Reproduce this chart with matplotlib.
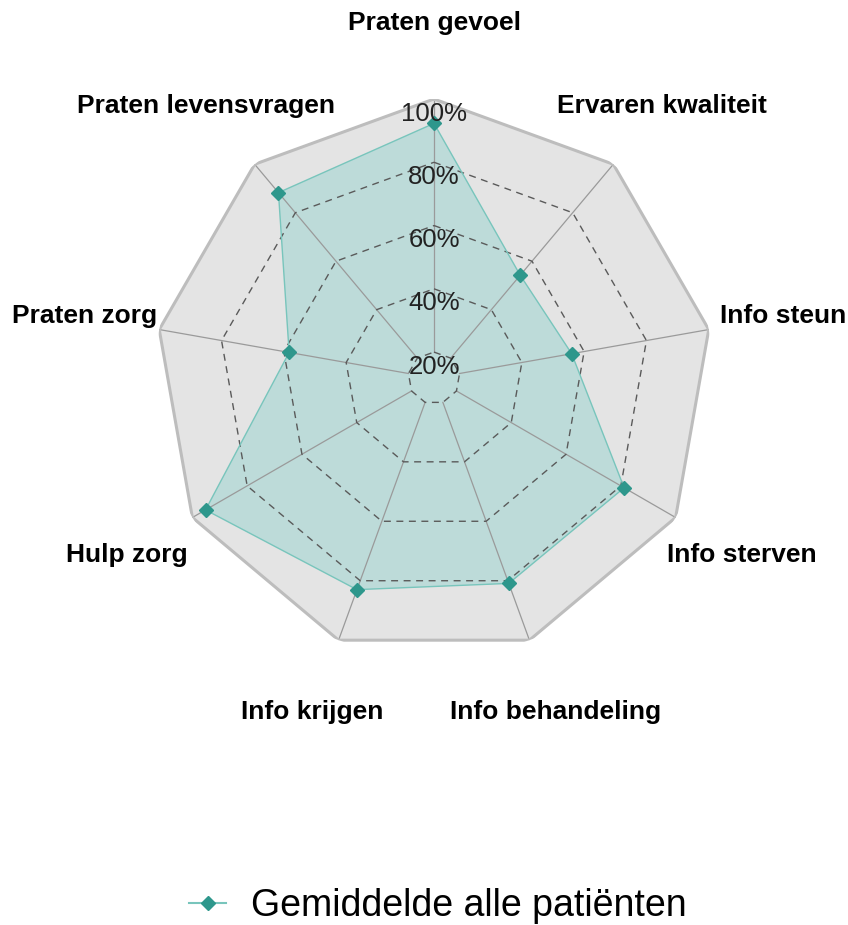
import numpy as np
import matplotlib
matplotlib.use("Agg")
import matplotlib.pyplot as plt
from matplotlib.lines import Line2D

plt.rcParams['font.family'] = ['Liberation Sans', 'DejaVu Sans']

# data
categories = ["Praten gevoel", "Ervaren kwaliteit", "Info steun", "Info sterven",
              "Info behandeling", "Info krijgen", "Hulp zorg", "Praten zorg",
              "Praten levensvragen"]
gemiddelde = [92.3, 54.2, 56.0, 81.2, 80.9, 83.0, 95.2, 58.3, 88.3]
ring_values = [20, 40, 60, 80]
tick_labels = ["20%", "40%", "60%", "80%", "100%"]
series_name = "Gemiddelde alle patiënten"

r_min = 11.8      # value that sits at the centre
r_max = 100
r_label = 124.0   # where the category names sit

teal_dark = "#2e978c"
teal_line = "#78c5bc"
teal_fill = "#bddbd9"

n = len(categories)
angles = np.linspace(0, 2 * np.pi, n, endpoint=False)
closed = np.append(angles, angles[0])

fig = plt.figure(figsize=(8.48, 9.25), dpi=100)
W, H = 848, 925
cx, cy, R = 434, 378, 279
ax = fig.add_axes([(cx - R) / W, (H - cy - R) / H, 2 * R / W, 2 * R / H],
                  projection='polar')
ax.set_theta_offset(np.pi / 2)
ax.set_theta_direction(-1)
ax.set_ylim(r_min, r_max)
ax.set_xticks([])
ax.set_yticks([])
ax.grid(False)
ax.spines['polar'].set_visible(False)
ax.set_facecolor('none')

# grey background
ax.fill(closed, [r_max] * (n + 1), color="#e4e4e4", zorder=0, lw=0)

# series area
vals = np.append(gemiddelde, gemiddelde[0])
ax.fill(closed, vals, color=teal_fill, zorder=1, lw=0)

# spokes
for a in angles:
    ax.plot([a, a], [20, r_max], color="#9a9a9a", lw=0.9, zorder=2)

# dashed rings
for v in ring_values:
    ax.plot(closed, [v] * (n + 1), color="#5a5a5a", lw=1.0,
            linestyle=(0, (5, 4)), zorder=2)

# outer frame
ax.plot(closed, [r_max] * (n + 1), color="#bdbdbd", lw=2.2, zorder=2,
        solid_joinstyle='miter')

# series line + markers
ax.plot(closed, vals, color=teal_line, lw=1.0, zorder=3)
ax.plot(angles, gemiddelde, linestyle='none', marker='D', ms=7.6,
        color=teal_dark, zorder=4)

# radial tick labels
for v, t in zip(ring_values + [100], tick_labels):
    ax.annotate(t, xy=(0, v), xytext=(0, -10.5), textcoords='offset points',
                ha='center', va='center', fontsize=18.5, color="#222222",
                zorder=5, annotation_clip=False)

# category names
for a, c in zip(angles, categories):
    ax.text(a, r_label, c, ha='center', va='center', fontsize=19,
            fontweight='bold', color="black", clip_on=False)

handle = Line2D([], [], color=teal_line, lw=1.5, marker='D', ms=6.8,
                markerfacecolor=teal_dark, markeredgecolor=teal_dark)
fig.legend([handle], [series_name], loc='center', bbox_to_anchor=(0.516, 0.02),
           frameon=False, fontsize=27, handlelength=1.0, handletextpad=0.65)

fig.savefig("out.png", dpi=100)
